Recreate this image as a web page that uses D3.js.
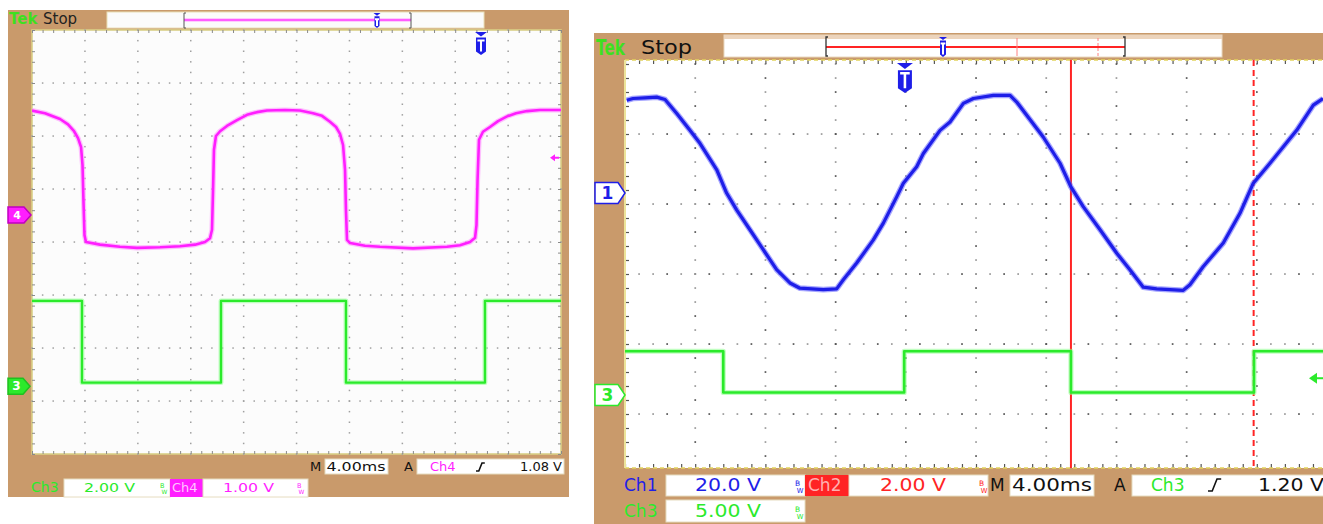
<!DOCTYPE html>
<html><head><meta charset="utf-8">
<script src="https://cdn.jsdelivr.net/npm/d3@7"></script>
<style>body{margin:0;background:#fff}svg{display:block}text{font-family:"DejaVu Sans",sans-serif}</style>
</head><body><svg id="c" width="1323" height="524"></svg>
<script>
// ================= DATA =================
// Left scope: time in ms, Ch4 in V (1.00 V/div), Ch3 in V (2.00 V/div)
const L_ch4_t = [0,0.98,2.12,2.72,3.18,3.48,3.71,3.82,3.89,3.97,4.08,5.14,6.65,7.94,9.68,11.19,12.33,13.08,13.46,13.61,13.69,13.76,13.91,14.22,14.74,15.50,16.26,17.01,17.77,19.13,20.26,21.25,21.93,22.53,22.99,23.29,23.52,23.67,23.74,23.82,24.05,25.18,26.31,28.81,31.38,32.36,33.12,33.50,33.61,33.69,33.80,34.10,34.63,35.24,35.92,36.60,37.43,38.41,40.0];
const L_ch4_v = [1.97,1.92,1.81,1.71,1.58,1.45,1.28,0.94,0.28,-0.38,-0.51,-0.56,-0.60,-0.62,-0.61,-0.59,-0.56,-0.51,-0.44,-0.28,0.47,1.23,1.49,1.58,1.68,1.79,1.89,1.94,1.97,1.98,1.97,1.92,1.87,1.76,1.66,1.53,1.32,0.85,0.09,-0.47,-0.53,-0.58,-0.60,-0.63,-0.60,-0.57,-0.51,-0.43,-0.19,0.66,1.42,1.57,1.66,1.77,1.86,1.92,1.96,1.98,1.98];
const L_ch3_t = [0,3.78,3.78,14.29,14.29,23.74,23.74,34.25,34.25,40];
const L_ch3_v = [3.22,3.22,0.13,0.13,3.22,3.22,0.13,0.13,3.22,3.22];
// Right scope: time in ms, Ch1 in V (20.0 V/div), Ch3 in V (5.00 V/div)
const R_ch1_t = [0.10,0.46,1.14,1.81,2.28,2.95,3.70,4.27,5.23,5.79,6.36,7.12,7.88,8.64,9.40,9.97,11.30,12.06,12.44,13.20,14.15,14.72,15.48,15.86,16.62,17.00,17.95,18.52,19.28,19.85,20.99,21.94,22.32,22.89,23.83,24.79,25.40,26.11,27.07,28.02,28.77,29.53,30.29,31.81,32.19,32.95,34.09,35.04,35.80,36.75,38.27,39.22,39.77];
const R_ch1_v = [26.5,27.0,27.2,27.4,26.7,22.7,17.9,14.2,6.6,0,-4.8,-10.5,-16.2,-21.9,-25.7,-27.2,-27.6,-27.4,-24.8,-20.0,-13.4,-8.6,-1.1,2.8,7.5,11.3,17.9,20.3,25.6,27.0,27.9,27.9,26.0,22.2,16.0,8.5,1.8,-3.9,-10.5,-17.2,-21.9,-26.9,-27.4,-27.8,-26.2,-21.0,-14.3,-5.8,2.8,8.5,17.9,25.1,27.0];
const R_ch3_t = [0,5.60,5.60,15.91,15.91,25.41,25.41,35.84,35.84,40];
const R_ch3_v = [3.13,3.13,0.18,0.18,3.13,3.13,0.18,0.18,3.13,3.13];
const R_cursors = [25.41, 35.82];
const L_trig = {time: 33.95, level: 1.08};
const R_trig = {time: 15.95, level: 1.20};
// readout labels
const L_row1 = {M: "M", time: "4.00ms", A: "A", src: "Ch4", lvl: "1.08 V"};
const L_row2 = [["Ch3", "2.00 V"], ["Ch4", "1.00 V"]];
const R_row1 = [["Ch1", "20.0 V"], ["Ch2", "2.00 V"]];
const R_row1b = {M: "M", time: "4.00ms", A: "A", src: "Ch3", lvl: "1.20 V"};
const R_row2 = [["Ch3", "5.00 V"]];

// ================= STYLE =================
const BROWN = "#c99a6b", MAG = "#ff1eff", GRN = "#2bea2b", BLU = "#1e1ee8", RED = "#ff2424";
const svg = d3.select("#c");
const defs = svg.append("defs");

function txt(g, x, y, s, fs, fill, opts = {}) {
  const t = g.append("text").attr("x", x).attr("y", y).attr("font-size", fs).attr("fill", fill).text(s);
  if (opts.anchor) t.attr("text-anchor", opts.anchor);
  if (opts.weight) t.attr("font-weight", opts.weight);
  if (opts.len) t.attr("textLength", opts.len).attr("lengthAdjust", "spacingAndGlyphs");
  return t;
}
function box(g, x, y, w, h, fill) {
  g.append("rect").attr("x", x).attr("y", y).attr("width", w).attr("height", h)
    .attr("fill", fill).attr("stroke", "#e6dcc0").attr("stroke-width", 1);
}
function chMarker(g, x0, x1, cy, h, fill, stroke, label, tc, fs) {
  const p = d3.path();
  p.moveTo(x0, cy - h / 2); p.lineTo(x1 - 7, cy - h / 2); p.lineTo(x1, cy);
  p.lineTo(x1 - 7, cy + h / 2); p.lineTo(x0, cy + h / 2); p.closePath();
  g.append("path").attr("d", p.toString()).attr("fill", fill).attr("stroke", stroke).attr("stroke-width", 1.5);
  txt(g, (x0 + x1 - 7) / 2 + 1, cy + fs * 0.36, label, fs, tc, {anchor: "middle", weight: "bold"});
}
function tMarker(g, cx, y0, w, h, color) {
  const p = d3.path();
  p.moveTo(cx - w / 2, y0); p.lineTo(cx + w / 2, y0); p.lineTo(cx, y0 + w * 0.38); p.closePath();
  g.append("path").attr("d", p.toString()).attr("fill", color);
  const b = d3.path(), top = y0 + w * 0.45, bot = y0 + h;
  b.moveTo(cx - w / 2 + 1, top); b.lineTo(cx + w / 2 - 1, top); b.lineTo(cx + w / 2 - 1, bot - w * 0.3);
  b.lineTo(cx, bot); b.lineTo(cx - w / 2 + 1, bot - w * 0.3); b.closePath();
  g.append("path").attr("d", b.toString()).attr("fill", color);
  const t = d3.path();
  t.moveTo(cx - w * 0.3, top + 3); t.lineTo(cx + w * 0.3, top + 3);
  t.moveTo(cx, top + 3); t.lineTo(cx, bot - w * 0.3);
  g.append("path").attr("d", t.toString()).attr("stroke", "#fff").attr("stroke-width", Math.max(2, w * 0.16)).attr("fill", "none");
}
function edgeGlyph(g, x, y, s) { // rising-edge trigger symbol
  const p = d3.path();
  p.moveTo(x, y + s); p.lineTo(x + s * 0.35, y + s); p.lineTo(x + s * 0.75, y); p.lineTo(x + s * 1.1, y);
  g.append("path").attr("d", p.toString()).attr("stroke", "#111").attr("stroke-width", 1.6).attr("fill", "none");
}
function bwIcon(g, x, y, fs, color) {
  txt(g, x, y - fs * 0.45, "B", fs * 0.5, color);
  txt(g, x + fs * 0.12, y, "W", fs * 0.45, color);
}
function trigArrow(g, x, y, s, color) {
  const p = d3.path();
  p.moveTo(x, y); p.lineTo(x + s, y - s * 0.7); p.lineTo(x + s, y + s * 0.7); p.closePath();
  g.append("path").attr("d", p.toString()).attr("fill", color);
  g.append("line").attr("x1", x + s).attr("x2", x + s * 1.8).attr("y1", y).attr("y2", y).attr("stroke", color).attr("stroke-width", 2);
}
function trace(g, xs, ys, t, v, yfn, color, halo, w) {
  const pts = t.map((d, i) => [xs(d), yfn(v[i])]);
  const line = d3.line();
  g.append("path").attr("d", line(pts)).attr("fill", "none").attr("stroke", halo).attr("stroke-opacity", 0.55)
    .attr("stroke-width", w + 2.5).attr("stroke-linejoin", "round");
  g.append("path").attr("d", line(pts)).attr("fill", "none").attr("stroke", color)
    .attr("stroke-width", w).attr("stroke-linejoin", "round");
}

// ================= LEFT SCOPE =================
{
  const g = svg.append("g");
  const X = d3.scaleLinear([0, 40], [32, 561]);
  const Y = d3.scaleLinear([-4, 4], [454, 30]);
  const ch4pos = 0.51, ch4div = 1.0, ch3pos = -2.72, ch3div = 2.0;
  g.append("rect").attr("x", 8).attr("y", 10).attr("width", 561).attr("height", 487).attr("fill", BROWN);
  // top bar
  txt(g, 9, 24, "Tek", 15, "#3ee020", {weight: "bold"});
  txt(g, 43, 24, "Stop", 15, "#222", {});
  g.append("rect").attr("x", 107).attr("y", 12).attr("width", 377).attr("height", 16).attr("fill", "#fbfbfb").attr("stroke", "#eadfb8");
  g.append("line").attr("x1", 184).attr("x2", 411).attr("y1", 20).attr("y2", 20).attr("stroke", "#ff9cff").attr("stroke-width", 3);
  g.append("line").attr("x1", 184).attr("x2", 411).attr("y1", 20).attr("y2", 20).attr("stroke", MAG).attr("stroke-width", 1);
  [184, 411].forEach(x => g.append("path").attr("d", `M${x + (x < 300 ? 2 : -2)},13 H${x} V28 H${x + (x < 300 ? 2 : -2)}`).attr("stroke", "#555").attr("fill", "none"));
  tMarker(g, 377, 13, 7, 15, BLU);
  // graticule
  g.append("rect").attr("x", 32).attr("y", 30).attr("width", 529).attr("height", 424).attr("fill", "#fcfcfc").attr("stroke", "#d9cf86").attr("stroke-width", 1.6);
  const dots = [];
  for (let k = 1; k < 10; k++) for (const j of d3.range(-4, 4.001, 0.2)) dots.push([X(4 * k), Y(j)]);
  for (let m = -3; m <= 3; m++) for (const i of d3.range(0, 40.001, 0.8)) dots.push([X(i), Y(m)]);
  g.append("g").selectAll("rect").data(dots).join("rect").attr("x", d => d[0] - 0.7).attr("y", d => d[1] - 0.7)
    .attr("width", 1.5).attr("height", 1.5).attr("fill", "#a0a0a0");
  const minX = d3.range(0, 40.001, 0.8), minY = d3.range(-4, 4.001, 0.2);
  const ax = [
    g.append("g").attr("transform", "translate(0,30)").call(d3.axisBottom(X).tickValues(minX).tickSize(3).tickFormat("")),
    g.append("g").attr("transform", "translate(0,454)").call(d3.axisTop(X).tickValues(minX).tickSize(3).tickFormat("")),
    g.append("g").attr("transform", "translate(32,0)").call(d3.axisRight(Y).tickValues(minY).tickSize(3).tickFormat("")),
    g.append("g").attr("transform", "translate(561,0)").call(d3.axisLeft(Y).tickValues(minY).tickSize(3).tickFormat(""))
  ];
  ax.forEach(a => { a.select(".domain").remove(); a.selectAll("line").attr("stroke", "#8a8a8a"); });
  defs.append("clipPath").attr("id", "clipL").append("rect").attr("x", 32).attr("y", 30).attr("width", 529).attr("height", 424);
  const tg = g.append("g").attr("clip-path", "url(#clipL)");
  trace(tg, X, Y, L_ch4_t, L_ch4_v, v => Y(ch4pos + v / ch4div), MAG, "#ff8cff", 2.6);
  trace(tg, X, Y, L_ch3_t, L_ch3_v, v => Y(ch3pos + v / ch3div), GRN, "#8cff8c", 2.3);
  // markers
  chMarker(g, 8, 31, Y(ch4pos), 16, MAG, "#c000c0", "4", "#fff", 11);
  chMarker(g, 8, 30, Y(ch3pos), 16, GRN, "#20c020", "3", "#fff", 12);
  tMarker(g, X(L_trig.time), 32, 12, 23, BLU);
  trigArrow(g, 550, Y(ch4pos + L_trig.level / ch4div), 5, MAG);
  // readouts row 1
  txt(g, 310, 471, L_row1.M, 13, "#111");
  box(g, 325, 459, 63, 15, "#fff");
  txt(g, 356, 471, L_row1.time, 13, "#111", {anchor: "middle", len: 59});
  txt(g, 404, 471, L_row1.A, 13, "#111");
  box(g, 417, 459, 147, 15, "#fff");
  txt(g, 430, 471, L_row1.src, 13, MAG);
  edgeGlyph(g, 476, 463, 8);
  txt(g, 562, 471, L_row1.lvl, 13, "#111", {anchor: "end"});
  // row 2
  txt(g, 31, 492, L_row2[0][0], 14, GRN);
  box(g, 64, 479, 106, 18, "#fff");
  txt(g, 84, 492, L_row2[0][1], 13, GRN, {len: 51});
  bwIcon(g, 160, 494, 13, GRN);
  g.append("rect").attr("x", 170).attr("y", 479).attr("width", 33).attr("height", 18).attr("fill", MAG);
  txt(g, 172, 492, L_row2[1][0], 13, "#ffc8ff");
  box(g, 203, 479, 105, 18, "#fff");
  txt(g, 223, 492, L_row2[1][1], 13, MAG, {len: 51});
  bwIcon(g, 297, 494, 13, MAG);
}

// ================= RIGHT SCOPE =================
{
  const g = svg.append("g");
  const X = d3.scaleLinear([0, 40], [625, 1327]);
  const Y = d3.scaleLinear([0, 1], [64, 134]); // divisions from top
  const ch1pos = 1.843, ch1div = 20, ch3pos = 4.729, ch3div = 5;
  const top = 60, bot = 468;
  g.append("rect").attr("x", 594).attr("y", 33).attr("width", 729).attr("height", 491).attr("fill", BROWN);
  // top bar
  txt(g, 596, 55, "Tek", 22, "#3ee020", {weight: "bold", len: 29});
  txt(g, 641, 54, "Stop", 20, "#111", {len: 51});
  g.append("rect").attr("x", 724).attr("y", 35).attr("width", 498).attr("height", 22).attr("fill", "#fff").attr("stroke", "#ead8c0");
  g.append("rect").attr("x", 724).attr("y", 35).attr("width", 498).attr("height", 4).attr("fill", "#ecd4bc");
  g.append("line").attr("x1", 826).attr("x2", 1125).attr("y1", 47).attr("y2", 47).attr("stroke", RED).attr("stroke-width", 2);
  [826, 1125].forEach(x => g.append("path").attr("d", `M${x + (x < 900 ? 2 : -2)},37 H${x} V56 H${x + (x < 900 ? 2 : -2)}`).attr("stroke", "#333").attr("fill", "none").attr("stroke-width", 1.3));
  g.append("line").attr("x1", 1017).attr("x2", 1017).attr("y1", 38).attr("y2", 56).attr("stroke", "#ff8080");
  g.append("line").attr("x1", 1098).attr("x2", 1098).attr("y1", 38).attr("y2", 56).attr("stroke", "#ff8080").attr("stroke-dasharray", "3,2");
  tMarker(g, 943, 37, 8, 20, BLU);
  // graticule
  g.append("rect").attr("x", 625).attr("y", top).attr("width", 702).attr("height", bot - top).attr("fill", "#fff");
  const dots = [];
  for (let k = 1; k < 10; k++) for (const j of d3.range(0, 5.81, 0.2)) { const y = Y(j); if (y > top + 2 && y < bot - 2) dots.push([X(4 * k), y]); }
  for (let m = 1; m <= 5; m++) for (const i of d3.range(0, 40.001, 0.8)) dots.push([X(i), Y(m)]);
  g.append("g").selectAll("rect").data(dots).join("rect").attr("x", d => d[0] - 0.8).attr("y", d => d[1] - 0.8)
    .attr("width", 1.7).attr("height", 1.7).attr("fill", (d, i) => (i % 3 === 0 ? "#555" : "#9a9a9a"));
  const minX = d3.range(0, 40.001, 0.8), minY = d3.range(0, 5.81, 0.2).filter(v => Y(v) < bot - 1);
  const ax = [
    g.append("g").attr("transform", `translate(0,${top})`).call(d3.axisBottom(X).tickValues(minX).tickSize(4).tickFormat("")),
    g.append("g").attr("transform", `translate(0,${bot})`).call(d3.axisTop(X).tickValues(minX).tickSize(4).tickFormat("")),
    g.append("g").attr("transform", "translate(625,0)").call(d3.axisRight(Y).tickValues(minY).tickSize(4).tickFormat(""))
  ];
  ax.forEach(a => { a.select(".domain").remove(); a.selectAll("line").attr("stroke", "#555").attr("stroke-width", 1.2); });
  g.append("line").attr("x1", 625).attr("x2", 1323).attr("y1", top).attr("y2", top).attr("stroke", "#e2d35e").attr("stroke-width", 1.6).attr("stroke-dasharray", "4,3");
  g.append("line").attr("x1", 625).attr("x2", 1323).attr("y1", bot).attr("y2", bot).attr("stroke", "#e2d35e").attr("stroke-width", 1.6).attr("stroke-dasharray", "4,3");
  g.append("line").attr("x1", 625).attr("x2", 625).attr("y1", top).attr("y2", bot).attr("stroke", "#ece39a").attr("stroke-width", 2);
  defs.append("clipPath").attr("id", "clipR").append("rect").attr("x", 625).attr("y", top).attr("width", 702).attr("height", bot - top);
  const tg = g.append("g").attr("clip-path", "url(#clipR)");
  // cursors
  R_cursors.forEach((c, i) => tg.append("line").attr("x1", X(c)).attr("x2", X(c)).attr("y1", top).attr("y2", bot)
    .attr("stroke", RED).attr("stroke-width", 2).attr("stroke-dasharray", i ? "6,4" : null));
  trace(tg, X, Y, R_ch1_t, R_ch1_v, v => Y(ch1pos - v / ch1div), BLU, "#5c5cff", 3.2);
  trace(tg, X, Y, R_ch3_t, R_ch3_v, v => Y(ch3pos - v / ch3div), GRN, "#8cff8c", 2.6);
  // markers
  chMarker(g, 595, 625, Y(ch1pos), 21, "#fff", BLU, "1", BLU, 17);
  chMarker(g, 595, 625, Y(ch3pos), 21, "#fff", GRN, "3", GRN, 17);
  tMarker(g, X(R_trig.time), 63, 16, 30, BLU);
  trigArrow(g, 1309, Y(ch3pos - R_trig.level / ch3div), 8, GRN);
  // readouts row 1
  txt(g, 624, 491, R_row1[0][0], 17, BLU);
  box(g, 666, 475, 139, 21, "#fff");
  txt(g, 695, 491, R_row1[0][1], 17, BLU, {len: 66});
  bwIcon(g, 795, 493, 15, BLU);
  g.append("rect").attr("x", 805).attr("y", 475).attr("width", 44).attr("height", 21).attr("fill", RED);
  txt(g, 808, 491, R_row1[1][0], 17, "#ffb0b0");
  box(g, 849, 475, 139, 21, "#fff");
  txt(g, 880, 491, R_row1[1][1], 17, RED, {len: 66});
  bwIcon(g, 979, 493, 15, RED);
  txt(g, 990, 491, R_row1b.M, 17, "#111");
  box(g, 1010, 475, 84, 21, "#fff");
  txt(g, 1012, 491, R_row1b.time, 17, "#111", {len: 80});
  txt(g, 1114, 491, R_row1b.A, 17, "#111");
  box(g, 1132, 475, 195, 21, "#fff");
  txt(g, 1151, 491, R_row1b.src, 17, GRN);
  edgeGlyph(g, 1208, 479, 12);
  txt(g, 1258, 491, R_row1b.lvl, 17, "#111", {len: 66});
  // row 2
  txt(g, 624, 517, R_row2[0][0], 17, GRN);
  box(g, 666, 500, 139, 22, "#fff");
  txt(g, 695, 517, R_row2[0][1], 17, GRN, {len: 66});
  bwIcon(g, 795, 519, 15, GRN);
}
</script></body></html>
